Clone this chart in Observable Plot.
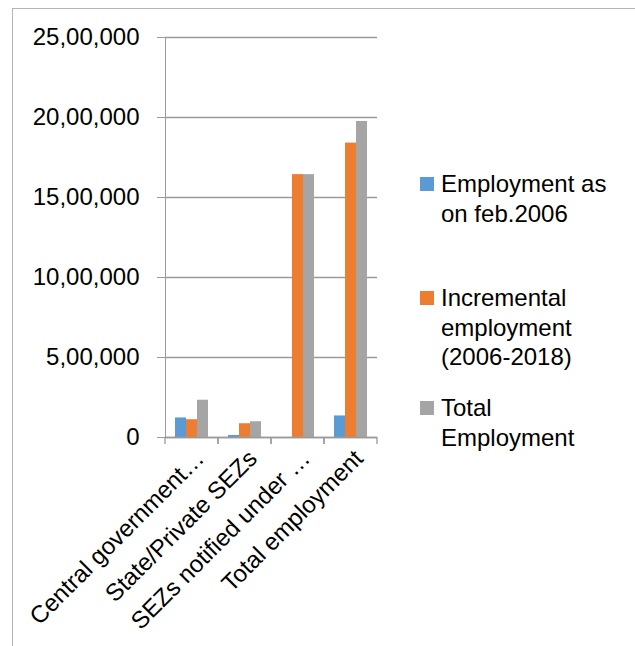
<!DOCTYPE html>
<html>
<head>
<meta charset="utf-8">
<script src="https://cdn.jsdelivr.net/npm/d3@7"></script>
<script src="https://cdn.jsdelivr.net/npm/@observablehq/plot@0.6"></script>
<style>
  html, body { margin: 0; padding: 0; background: #fff; }
  #wrap { position: relative; width: 635px; height: 646px; overflow: hidden; font-family: "Liberation Sans", Arial, sans-serif; }
  #border { position: absolute; left: 12px; top: 8px; width: 700px; height: 700px; border: 1px solid #b4b4b4; box-sizing: border-box; }
  #chart { position: absolute; left: 0; top: 0; }
  #chart svg text { fill: #000; }
  #legend { position: absolute; left: 0; top: 0; }
  .item { position: absolute; left: 420px; font-size: 24px; line-height: 29.5px; color: #000; }
  .sw { position: absolute; left: 0; width: 14px; height: 14px; }
  .lbl { position: absolute; left: 21px; white-space: nowrap; }
</style>
</head>
<body>
<div id="wrap">
  <div id="border"></div>
  <div id="chart"></div>
  <div id="legend"></div>
</div>
<script>
const categories = ["Central government…", "State/Private SEZs", "SEZs notified under …", "Total employment"];
const seriesNames = ["Employment as on feb.2006", "Incremental employment (2006-2018)", "Total Employment"];
const legendLines = [["Employment as", "on feb.2006"], ["Incremental", "employment", "(2006-2018)"], ["Total", "Employment"]];
const employmentFeb2006 = [122236, 12468, 0, 134704];
const incrementalEmployment = [111000, 86000, 1643000, 1840000];
const totalEmployment = [233000, 98500, 1643000, 1975000];
const yTicks = [0, 500000, 1000000, 1500000, 2000000, 2500000];
const yTickLabels = ["0", "5,00,000", "10,00,000", "15,00,000", "20,00,000", "25,00,000"];
const colors = ["#5B9BD5", "#ED7D31", "#A5A5A5"];

const seriesValues = [employmentFeb2006, incrementalEmployment, totalEmployment];
const rows = [];
categories.forEach((c, i) => seriesNames.forEach((s, j) => rows.push({category: c, series: s, value: seriesValues[j][i]})));

const axisColor = "#9a9a9a";

function categoryTicks(index, scales) {
  const g = d3.create("svg:g").attr("stroke", axisColor).attr("stroke-width", 1.3);
  const r = scales.x.range();
  const y0 = scales.y(0);
  [r[0], r[1]].forEach(xx => {
    g.append("line").attr("x1", xx).attr("x2", xx).attr("y1", y0).attr("y2", y0 + 7);
  });
  return g.node();
}

const chart = Plot.plot({
  width: 635,
  height: 646,
  marginLeft: 163,
  marginRight: 257,
  marginTop: 37,
  marginBottom: 209,
  style: {fontFamily: "'Liberation Sans', Arial, sans-serif", fontSize: "24px", color: axisColor, background: "transparent", overflow: "visible"},
  fx: {domain: categories, padding: 0, label: null, axis: null},
  x: {domain: seriesNames, axis: null, paddingInner: 0, paddingOuter: 0.8},
  y: {domain: [0, 2500000], ticks: yTicks, tickFormat: d => yTickLabels[yTicks.indexOf(d)], line: true, tickSize: 8, tickPadding: 18, label: null},
  color: {domain: seriesNames, range: colors},
  marks: [
    Plot.gridY(yTicks, {stroke: axisColor, strokeOpacity: 1, strokeWidth: 1.3}),
    Plot.barY(rows, {fx: "category", x: "series", y: "value", fill: "series"}),
    Plot.ruleY([0], {stroke: axisColor, strokeWidth: 1.3}),
    categoryTicks,
    Plot.axisFx({anchor: "bottom", tickRotate: -45, tickSize: 0, tickPadding: 17, dx: 8, label: null, fontSize: 24})
  ]
});
document.getElementById("chart").appendChild(chart);

const legendTops = [169, 283, 393];
const legend = document.getElementById("legend");
seriesNames.forEach((s, j) => {
  const item = document.createElement("div");
  item.className = "item";
  item.style.top = legendTops[j] + "px";
  const sw = document.createElement("div");
  sw.className = "sw";
  sw.style.background = colors[j];
  sw.style.top = "8px";
  const lbl = document.createElement("div");
  lbl.className = "lbl";
  lbl.innerHTML = legendLines[j].join("<br>");
  item.appendChild(sw);
  item.appendChild(lbl);
  legend.appendChild(item);
});
</script>
</body>
</html>
